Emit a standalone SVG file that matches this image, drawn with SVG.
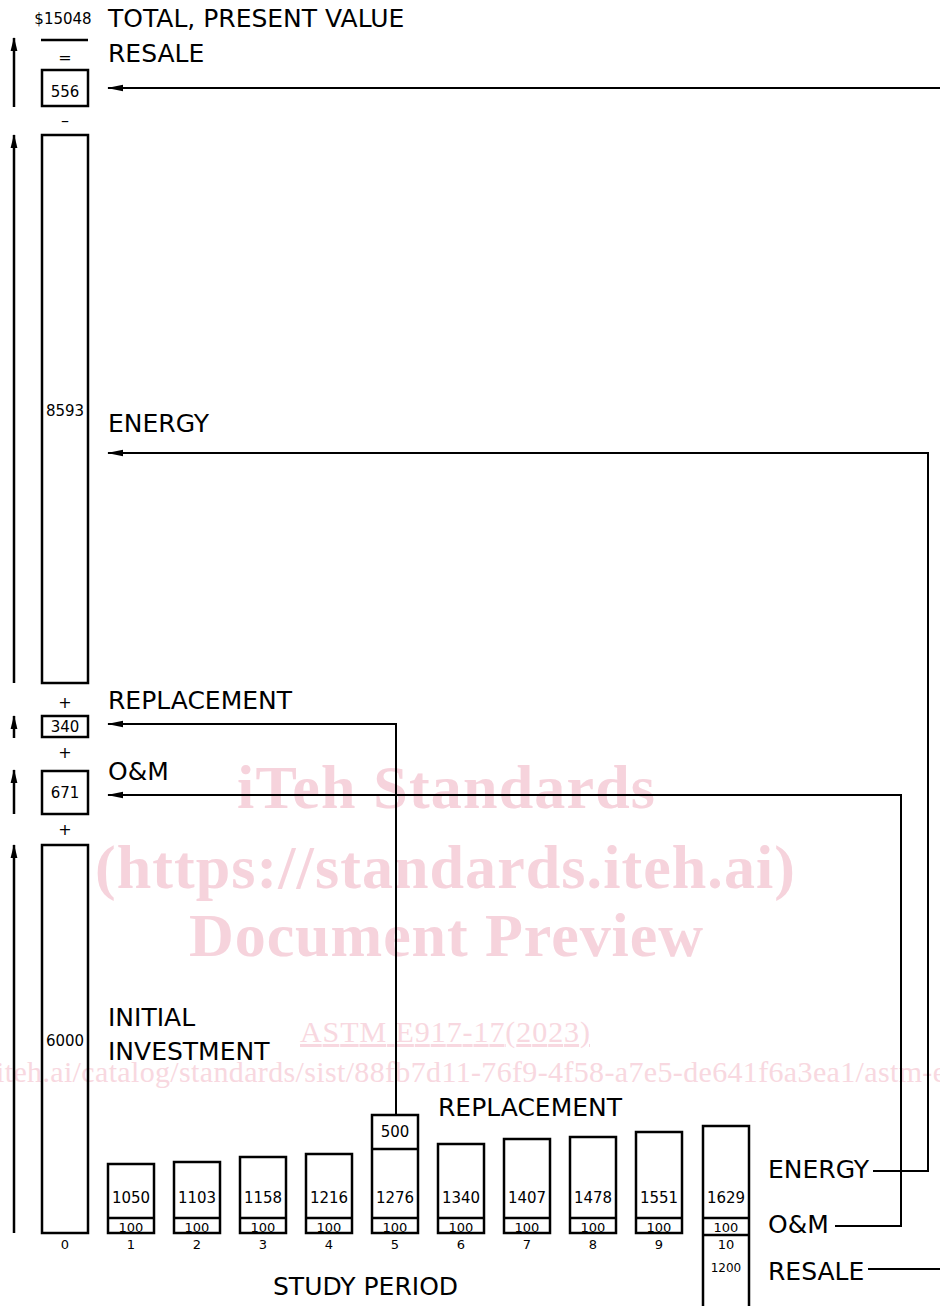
<svg xmlns="http://www.w3.org/2000/svg" width="940" height="1306" viewBox="0 0 940 1306">
<style>
.lbl{font-family:"DejaVu Sans","Liberation Sans",sans-serif;font-size:25px;fill:#000}
.num{font-family:"DejaVu Sans","Liberation Sans",sans-serif;font-size:15px;fill:#000;text-anchor:middle}
.sm{font-family:"DejaVu Sans","Liberation Sans",sans-serif;font-size:13px;fill:#000;text-anchor:middle}
.sg{font-family:"DejaVu Sans","Liberation Sans",sans-serif;font-size:16px;fill:#000;text-anchor:middle}
.xs{font-family:"DejaVu Sans","Liberation Sans",sans-serif;font-size:12px;fill:#000;text-anchor:middle}
.box{fill:none;stroke:#000;stroke-width:2.5}
.div{stroke:#000;stroke-width:2.5}
.con{fill:none;stroke:#000;stroke-width:2}
.up{fill:none;stroke:#000;stroke-width:2.5}
.wm{font-family:"Liberation Serif",serif;font-weight:bold;font-size:62px;fill:#f6d3dc;text-anchor:middle}
.wm2{font-family:"Liberation Serif",serif;font-size:30px;fill:#f8d8e0}
</style>
<defs>
<marker id="ah" markerWidth="16" markerHeight="8" refX="15" refY="4" orient="auto" markerUnits="userSpaceOnUse">
<path d="M0,0.8 L16,4 L0,7.2 z" fill="#000"/>
</marker>
<marker id="au" markerWidth="14" markerHeight="8" refX="13" refY="4" orient="auto" markerUnits="userSpaceOnUse">
<path d="M0,0.6 L14,4 L0,7.4 z" fill="#000"/>
</marker>
</defs>
<rect width="940" height="1306" fill="#fff"/>

<g id="watermark">
<text class="wm" x="446" y="808" textLength="418">iTeh Standards</text>
<text class="wm" x="445" y="888" textLength="700">(https://standards.iteh.ai)</text>
<text class="wm" x="446" y="956" textLength="514">Document Preview</text>
<text class="wm2" x="300" y="1042" textLength="290" text-decoration="underline">ASTM E917-17(2023)</text>
<text class="wm2" x="-4" y="1082" textLength="950">iteh.ai/catalog/standards/sist/88fb7d11-76f9-4f58-a7e5-de641f6a3ea1/astm-e</text>
</g>

<g id="connectors">
<path class="up" d="M14,107 V38" marker-end="url(#au)"/>
<path class="up" d="M14,683 V135" marker-end="url(#au)"/>
<path class="up" d="M14,738 V716" marker-end="url(#au)"/>
<path class="up" d="M14,814 V770" marker-end="url(#au)"/>
<path class="up" d="M14,1233 V845" marker-end="url(#au)"/>
<path class="con" d="M940,88 H108" marker-end="url(#ah)"/>
<path class="con" d="M873,1171 H928 V453 H108" marker-end="url(#ah)"/>
<path class="con" d="M396,1115 V724 H108" marker-end="url(#ah)"/>
<path class="con" d="M835,1226 H901 V795 H108" marker-end="url(#ah)"/>
<path class="con" d="M868,1269 H940"/>
</g>

<g id="total">
<text class="num" x="63" y="24">$15048</text>
<line class="div" x1="41" y1="40" x2="88" y2="40"/>
<text class="sg" x="65" y="63">=</text>
<text class="lbl" x="108" y="27">TOTAL, PRESENT VALUE</text>
</g>
<g id="resale-pv">
<rect class="box" x="42" y="70" width="46" height="36"/>
<text class="num" x="65" y="97">556</text>
<text class="sg" x="65" y="126">–</text>
<text class="lbl" x="108" y="62">RESALE</text>
</g>
<g id="energy-pv">
<rect class="box" x="42" y="135" width="46" height="548"/>
<text class="num" x="65" y="416">8593</text>
<text class="sg" x="65" y="708">+</text>
<text class="lbl" x="108" y="432">ENERGY</text>
</g>
<g id="replacement-pv">
<rect class="box" x="42" y="716" width="46" height="21"/>
<text class="num" x="65" y="732">340</text>
<text class="sg" x="65" y="758">+</text>
<text class="lbl" x="108" y="709">REPLACEMENT</text>
</g>
<g id="om-pv">
<rect class="box" x="42" y="771" width="46" height="43"/>
<text class="num" x="65" y="798">671</text>
<text class="sg" x="65" y="835">+</text>
<text class="lbl" x="108" y="780">O&amp;M</text>
</g>
<g id="initial-pv">
<rect class="box" x="42" y="845" width="46" height="388"/>
<text class="num" x="65" y="1046">6000</text>
<text class="sm" x="65" y="1249">0</text>
<text class="lbl" x="108" y="1026">INITIAL</text>
<text class="lbl" x="108" y="1060">INVESTMENT</text>
</g>

<g id="year1">
<rect class="box" x="108" y="1164" width="46" height="69"/>
<line class="div" x1="108" y1="1218" x2="154" y2="1218"/>
<text class="num" x="131" y="1203">1050</text>
<text class="sm" x="131" y="1232">100</text>
<text class="sm" x="131" y="1249">1</text>
</g>
<g id="year2">
<rect class="box" x="174" y="1162" width="46" height="71"/>
<line class="div" x1="174" y1="1218" x2="220" y2="1218"/>
<text class="num" x="197" y="1203">1103</text>
<text class="sm" x="197" y="1232">100</text>
<text class="sm" x="197" y="1249">2</text>
</g>
<g id="year3">
<rect class="box" x="240" y="1157" width="46" height="76"/>
<line class="div" x1="240" y1="1218" x2="286" y2="1218"/>
<text class="num" x="263" y="1203">1158</text>
<text class="sm" x="263" y="1232">100</text>
<text class="sm" x="263" y="1249">3</text>
</g>
<g id="year4">
<rect class="box" x="306" y="1154" width="46" height="79"/>
<line class="div" x1="306" y1="1218" x2="352" y2="1218"/>
<text class="num" x="329" y="1203">1216</text>
<text class="sm" x="329" y="1232">100</text>
<text class="sm" x="329" y="1249">4</text>
</g>
<g id="year5">
<rect class="box" x="372" y="1115" width="46" height="118"/>
<line class="div" x1="372" y1="1149" x2="418" y2="1149"/>
<line class="div" x1="372" y1="1218" x2="418" y2="1218"/>
<text class="num" x="395" y="1137">500</text>
<text class="num" x="395" y="1203">1276</text>
<text class="sm" x="395" y="1232">100</text>
<text class="sm" x="395" y="1249">5</text>
</g>
<g id="year6">
<rect class="box" x="438" y="1144" width="46" height="89"/>
<line class="div" x1="438" y1="1218" x2="484" y2="1218"/>
<text class="num" x="461" y="1203">1340</text>
<text class="sm" x="461" y="1232">100</text>
<text class="sm" x="461" y="1249">6</text>
</g>
<g id="year7">
<rect class="box" x="504" y="1139" width="46" height="94"/>
<line class="div" x1="504" y1="1218" x2="550" y2="1218"/>
<text class="num" x="527" y="1203">1407</text>
<text class="sm" x="527" y="1232">100</text>
<text class="sm" x="527" y="1249">7</text>
</g>
<g id="year8">
<rect class="box" x="570" y="1137" width="46" height="96"/>
<line class="div" x1="570" y1="1218" x2="616" y2="1218"/>
<text class="num" x="593" y="1203">1478</text>
<text class="sm" x="593" y="1232">100</text>
<text class="sm" x="593" y="1249">8</text>
</g>
<g id="year9">
<rect class="box" x="636" y="1132" width="46" height="101"/>
<line class="div" x1="636" y1="1218" x2="682" y2="1218"/>
<text class="num" x="659" y="1203">1551</text>
<text class="sm" x="659" y="1232">100</text>
<text class="sm" x="659" y="1249">9</text>
</g>
<g id="year10">
<rect class="box" x="703" y="1126" width="46" height="190"/>
<line class="div" x1="703" y1="1218" x2="749" y2="1218"/>
<line class="div" x1="703" y1="1235" x2="749" y2="1235"/>
<text class="num" x="726" y="1203">1629</text>
<text class="sm" x="726" y="1232">100</text>
<text class="sm" x="726" y="1249">10</text>
<text class="xs" x="726" y="1272">1200</text>
</g>

<g id="labels">
<text class="lbl" x="438" y="1116">REPLACEMENT</text>
<text class="lbl" x="768" y="1178">ENERGY</text>
<text class="lbl" x="768" y="1233">O&amp;M</text>
<text class="lbl" x="768" y="1280">RESALE</text>
<text class="lbl" x="273" y="1295">STUDY PERIOD</text>
</g>
</svg>
